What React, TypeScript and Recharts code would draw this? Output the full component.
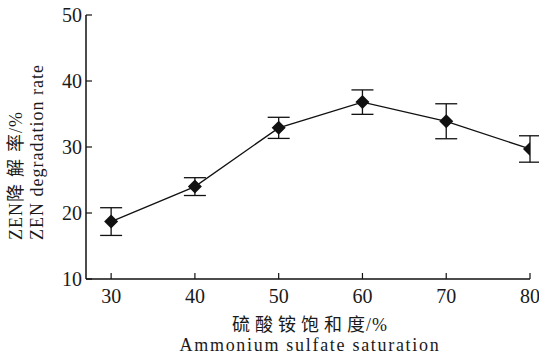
import { LineChart, Line, XAxis, YAxis, ErrorBar, Label } from "recharts";

const saturation = [30, 40, 50, 60, 70, 80];
const degradation = [18.7, 24.0, 32.9, 36.8, 33.9, 29.7];
const errors = [2.1, 1.35, 1.6, 1.85, 2.65, 2.0];
const xTicks = [30, 40, 50, 60, 70, 80];
const yTicks = [10, 20, 30, 40, 50];

const data = saturation.map((s, i) => ({ s, rate: degradation[i], err: errors[i] }));

const FONT = "Times New Roman, Liberation Serif, DejaVu Serif, Noto Sans CJK SC, serif";
const INK = "#1a1a1a";

function Diamond(props: any) {
  const { cx, cy } = props;
  if (cx == null || cy == null) return null;
  const r = 7;
  return (
    <polygon
      points={`${cx},${cy - r} ${cx + r},${cy} ${cx},${cy + r} ${cx - r},${cy}`}
      fill="#111"
    />
  );
}

function XTick(props: any) {
  const { x, y, payload } = props;
  return (
    <text x={x} y={y + 24} textAnchor="middle" fontSize={20} fill={INK} style={{ fontFamily: FONT }}>
      {payload.value}
    </text>
  );
}

function YTick(props: any) {
  const { x, y, payload } = props;
  return (
    <text x={x} y={y + 7} textAnchor="end" fontSize={20} fill={INK} style={{ fontFamily: FONT }}>
      {payload.value}
    </text>
  );
}

// spaced CJK text, no extra gap before the trailing "/%"
function YTitle() {
  return (
    <g style={{ fontFamily: FONT }} fontSize={18} fill={INK}>
      <text transform="translate(22,240) rotate(-90)" textAnchor="start">
        <tspan letterSpacing={1}>ZEN</tspan>
        <tspan letterSpacing={7}>降解</tspan>
        <tspan letterSpacing={1}>率/%</tspan>
      </text>
      <text transform="translate(43,240) rotate(-90)" textAnchor="start" letterSpacing={1}>
        ZEN degradation rate
      </text>
    </g>
  );
}

function XTitle() {
  return (
    <g style={{ fontFamily: FONT }} fontSize={18} fill={INK}>
      <text x={310} y={331} textAnchor="middle">
        <tspan letterSpacing={5}>硫酸铵饱和</tspan>
        <tspan letterSpacing={1}>度/%</tspan>
      </text>
      <text x={310} y={351} textAnchor="middle" letterSpacing={1.7}>
        Ammonium sulfate saturation
      </text>
    </g>
  );
}

export default function App() {
  return (
    <div style={{ position: "fixed", left: 0, top: 0, background: "#fff", fontFamily: FONT }}>
      <LineChart
        width={539}
        height={354}
        data={data}
        margin={{ top: 15, right: 9, bottom: 45, left: 40 }}
      >
        <XAxis
          dataKey="s"
          type="number"
          domain={[27, 80]}
          ticks={xTicks}
          allowDataOverflow
          height={30}
          axisLine={{ stroke: "#111", strokeWidth: 1.5 }}
          tickLine={{ stroke: "#111", strokeWidth: 1.2 }}
          tickSize={-6}
          tickMargin={6}
          tick={<XTick />}
        >
          <Label content={() => <XTitle />} />
        </XAxis>
        <YAxis
          type="number"
          domain={[10, 50]}
          ticks={yTicks}
          width={46}
          axisLine={{ stroke: "#111", strokeWidth: 1.5 }}
          tickLine={{ stroke: "#111", strokeWidth: 1.2 }}
          tickSize={-6}
          tickMargin={10}
          tick={<YTick />}
        >
          <Label content={() => <YTitle />} />
        </YAxis>
        <Line
          dataKey="rate"
          stroke="#111"
          strokeWidth={1.3}
          dot={<Diamond />}
          activeDot={false}
          isAnimationActive={false}
        >
          <ErrorBar dataKey="err" width={11} stroke="#111" strokeWidth={1.3} isAnimationActive={false} />
        </Line>
      </LineChart>
    </div>
  );
}
